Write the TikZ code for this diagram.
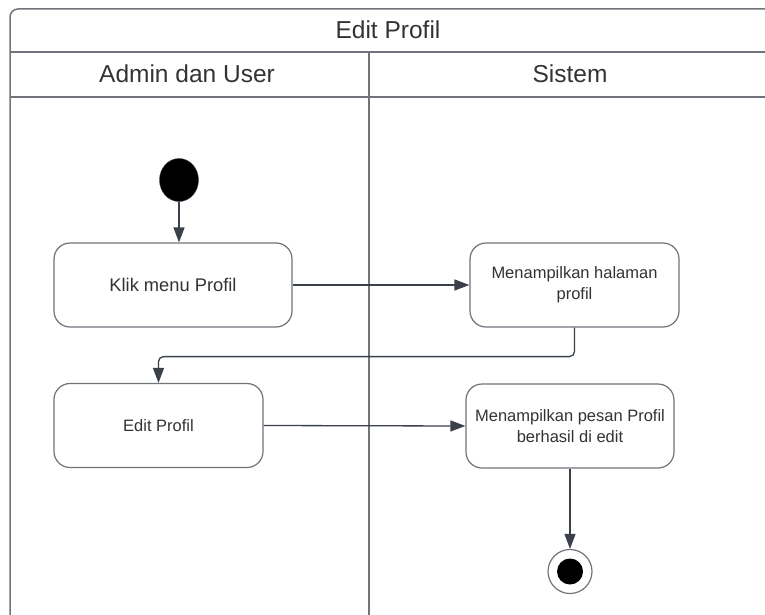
\documentclass[tikz,border=0pt]{standalone}
\usepackage{fontspec}
\setmainfont{Liberation Sans}
\usetikzlibrary{arrows.meta,shapes.geometric}

\definecolor{linha}{RGB}{58,65,74}
\definecolor{borda}{RGB}{112,116,122}
\definecolor{texto}{RGB}{51,51,51}

\begin{document}
\begin{tikzpicture}[x=1pt, y=-1pt,
        atividade/.style={draw=borda, line width=1.2pt, rounded corners=16pt, fill=white,
            text=texto, align=center, inner sep=0pt, minimum height=84pt,
            font=\fontsize{16.5}{21}\selectfont},
        seta/.style={linha, line width=1.3pt, -{Triangle[length=15pt,width=11pt]}},
        raia/.style={borda, line width=1.5pt},
        cabecalho/.style={text=texto, font=\fontsize{24.5}{28}\selectfont}]
            \useasboundingbox (0,0) rectangle (765,615);

            % raias
            \draw[raia, rounded corners=8pt] (10,615) -- (10,9) -- (772,9);
            \draw[raia] (10,52) -- (772,52);
            \draw[raia] (10,97) -- (772,97);
            \draw[raia] (369,52) -- (369,615);

            \node[cabecalho] (titulo) at (388,30) {Edit Profil};
            \node[cabecalho] (admin) at (187,74) {Admin dan User};
            \node[cabecalho] (sistem) at (570,74) {Sistem};

            % atividades
            \node[ellipse, fill=black, draw=linha, minimum width=39pt, minimum height=43pt, inner sep=0pt] (inicio) at (179,180) {};
            \node[atividade, minimum width=238pt, font=\fontsize{18.3}{22}\selectfont] (klik) at (173,285) {Klik menu Profil};
            \node[atividade, minimum width=209pt] (halaman) at (574.5,285) {Menampilkan halaman\\profil};
            \node[atividade, minimum width=209pt] (edit) at (158.5,425.5) {Edit Profil};
            \node[atividade, minimum width=208pt] (pesan) at (570,426) {Menampilkan pesan Profil\\berhasil di edit};
            \node[circle, draw=borda, line width=1.2pt, minimum size=44pt, inner sep=0pt] (fim) at (570,571.5) {};
            \fill[black] (fim.center) circle (13pt);

            % fluxo
            \draw[seta] (inicio.south) -- (inicio.south |- klik.north);
            \draw[seta] (klik.east) -- (halaman.west);
            \draw[seta, rounded corners=5pt] (halaman.south) -- ++(0,29) -| (edit.north);
            \draw[seta] (edit.east) -- (pesan.west);
            \draw[seta] (pesan.south) -- (fim.north);
        \end{tikzpicture}
\end{document}
